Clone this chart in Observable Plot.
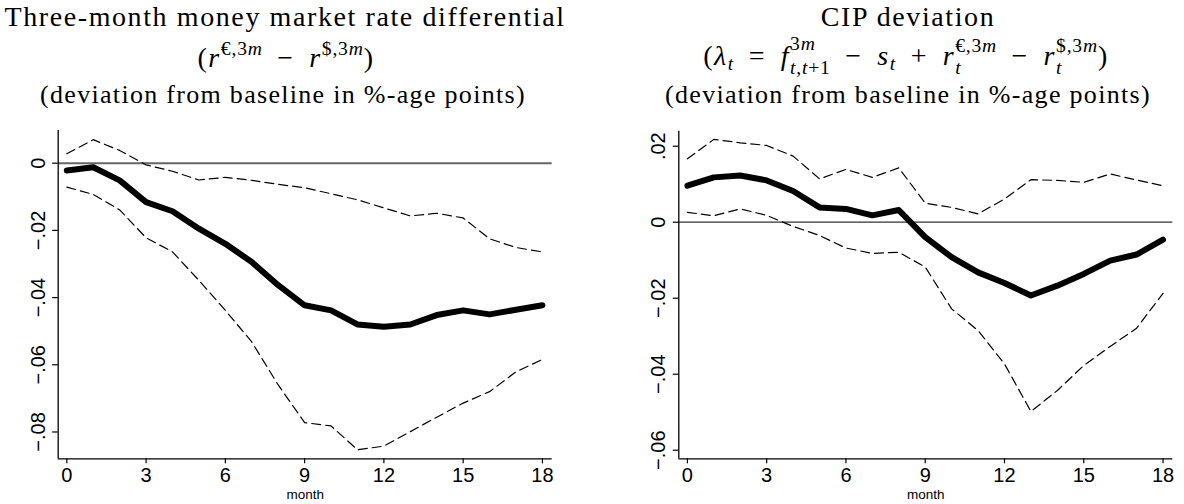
<!DOCTYPE html>
<html>
<head>
<meta charset="utf-8">
<script src="https://cdn.jsdelivr.net/npm/d3@7"></script>
<script src="https://cdn.jsdelivr.net/npm/@observablehq/plot@0.6"></script>
<style>
  body { margin: 0; background: #fff; }
  #root { position: relative; width: 1184px; height: 504px; overflow: hidden; background: #fff; }
  .t { position: absolute; width: 600px; text-align: center; white-space: nowrap;
       font-family: "Liberation Serif", "Times New Roman", serif; color: #000; line-height: 40px; }
  .t1 { font-size: 28px; letter-spacing: 1.6px; }
  .t2 { font-size: 28px; letter-spacing: 1.6px; word-spacing: 6px; }
  .t3 { font-size: 26px; letter-spacing: 1.3px; }
  .sup, .sub { font-size: 0.7em; line-height: 0; letter-spacing: 0.8px; word-spacing: 0; }
  .z { display: inline-block; width: 0; }
  .panel { position: absolute; top: 120px; }
</style>
</head>
<body>
<div id="root">
  <div class="t t1" style="left:-15px; top:-3.5px;">Three-month money market rate differential</div>
  <div class="t t2" style="left:-14px; top:37.5px;">(<i>r</i><span class="sup" style="vertical-align:12px">€,3<i>m</i></span> − <i>r</i><span class="sup" style="vertical-align:12px">$,3<i>m</i></span>)</div>
  <div class="t t3" style="left:-17px; top:75.2px;">(deviation from baseline in %-age points)</div>

  <div class="t t1" style="left:608px; top:-3.5px;">CIP deviation</div>
  <div class="t t2" style="left:606px; top:35.5px;">(<i>λ</i><span class="sub" style="vertical-align:-5px"><i>t</i></span> = <i>f</i><span class="sup z" style="vertical-align:15px">3<i>m</i></span><span class="sub" style="vertical-align:-9px"><i>t</i>,<i>t</i>+1</span> − <i>s</i><span class="sub" style="vertical-align:-5px"><i>t</i></span> + <i>r</i><span class="sub z" style="vertical-align:-9px"><i>t</i></span><span class="sup" style="vertical-align:13px">€,3<i>m</i></span> − <i>r</i><span class="sub z" style="vertical-align:-9px"><i>t</i></span><span class="sup" style="vertical-align:13px">$,3<i>m</i></span>)</div>
  <div class="t t3" style="left:608px; top:75.2px;">(deviation from baseline in %-age points)</div>

  <div id="p1" class="panel" style="left:0px;"></div>
  <div id="p2" class="panel" style="left:592px;"></div>
</div>
<script>
// ---- data ----
const months = [0, 1, 2, 3, 4, 5, 6, 7, 8, 9, 10, 11, 12, 13, 14, 15, 16, 17, 18];
const xTicks = [0, 3, 6, 9, 12, 15, 18];
const xLabel = "month";

// Left panel: three-month money market rate differential
const rateMid = [-0.0022, -0.0012, -0.0051, -0.0116, -0.0143, -0.0195, -0.0240, -0.0294, -0.0363, -0.0423, -0.0438, -0.0480, -0.0487, -0.0480, -0.0452, -0.0438, -0.0450, -0.0436, -0.0423];
const rateUpper = [0.0028, 0.0070, 0.0038, -0.0005, -0.0024, -0.0050, -0.0042, -0.0051, -0.0063, -0.0073, -0.0091, -0.0109, -0.0133, -0.0157, -0.0149, -0.0163, -0.0225, -0.0251, -0.0264];
const rateLower = [-0.0071, -0.0093, -0.0139, -0.0222, -0.0264, -0.0349, -0.0438, -0.0532, -0.0660, -0.0772, -0.0782, -0.0853, -0.0842, -0.0799, -0.0756, -0.0714, -0.0680, -0.0621, -0.0584];
const rateYTicks = [0, -0.02, -0.04, -0.06, -0.08];
const rateYTickLabels = ["0", "−.02", "−.04", "−.06", "−.08"];

// Right panel: CIP deviation
const cipMid = [0.0096, 0.0118, 0.0123, 0.0110, 0.0082, 0.0039, 0.0035, 0.0018, 0.0032, -0.0039, -0.0092, -0.0132, -0.0160, -0.0193, -0.0167, -0.0136, -0.0101, -0.0085, -0.0046];
const cipUpper = [0.0167, 0.0218, 0.0209, 0.0202, 0.0174, 0.0114, 0.0139, 0.0118, 0.0143, 0.0050, 0.0039, 0.0022, 0.0061, 0.0112, 0.0110, 0.0105, 0.0127, 0.0111, 0.0096];
const cipLower = [0.0026, 0.0017, 0.0035, 0.0018, -0.0011, -0.0035, -0.0068, -0.0082, -0.0079, -0.0118, -0.0228, -0.0285, -0.0373, -0.0498, -0.0443, -0.0377, -0.0327, -0.0279, -0.0187];
const cipYTicks = [0.02, 0, -0.02, -0.04, -0.06];
const cipYTickLabels = [".02", "0", "−.02", "−.04", "−.06"];

// ---- drawing ----
const xDomain = [-0.326, 18.37];

function panel(opts) {
  const {mid, upper, lower, yDomain, yTicks, yLabels, ml, mr, mt, zeroStroke, zeroWidth} = opts;
  const rows = months.map((m, i) => ({m, mid: mid[i], upper: upper[i], lower: lower[i]}));
  const labelOf = new Map(yTicks.map((t, i) => [t, yLabels[i]]));
  const dash = {x: "m", stroke: "#000", strokeWidth: 1.2, strokeDasharray: "9,5"};
  return Plot.plot({
    width: 592,
    height: 384,
    marginLeft: ml,
    marginRight: mr,
    marginTop: mt,
    marginBottom: 45.7,
    style: {fontFamily: "'Liberation Sans', Arial, sans-serif", background: "#fff", color: "#000", overflow: "visible"},
    x: {domain: xDomain},
    y: {domain: yDomain},
    marks: [
      Plot.ruleY([0], {stroke: zeroStroke, strokeWidth: zeroWidth}),
      Plot.lineY(rows, {...dash, y: "upper"}),
      Plot.lineY(rows, {...dash, y: "lower"}),
      Plot.lineY(rows, {x: "m", y: "mid", stroke: "#000", strokeWidth: 6, strokeLinejoin: "round", strokeLinecap: "round"}),
      Plot.ruleX([xDomain[0]], {stroke: "#000", strokeWidth: 1.3}),
      Plot.ruleY([yDomain[0]], {stroke: "#000", strokeWidth: 1.3}),
      Plot.axisX(xTicks, {tickSize: 5, tickPadding: 4, fontSize: 20, tickFormat: d => String(d), label: null, strokeWidth: 1.2}),
      Plot.axisY(yTicks, {tickSize: 5.5, tickPadding: 8, tickRotate: -90, fontSize: 20, tickFormat: d => labelOf.get(d), label: null, strokeWidth: 1.2}),
      Plot.text([xLabel], {frameAnchor: "bottom", lineAnchor: "bottom", dy: 40, fontSize: 13.5, fill: "#000"})
    ]
  });
}

document.getElementById("p1").append(panel({
  mid: rateMid, upper: rateUpper, lower: rateLower,
  yDomain: [-0.08798, 0.00973], yTicks: rateYTicks, yLabels: rateYTickLabels,
  ml: 57.7, mr: 40.3, mt: 10, zeroStroke: "#666", zeroWidth: 2
}));
document.getElementById("p2").append(panel({
  mid: cipMid, upper: cipUpper, lower: cipLower,
  yDomain: [-0.06226, 0.02395], yTicks: cipYTicks, yLabels: cipYTickLabels,
  ml: 86.3, mr: 11.7, mt: 10.7, zeroStroke: "#333", zeroWidth: 1.3
}));
</script>
</body>
</html>
